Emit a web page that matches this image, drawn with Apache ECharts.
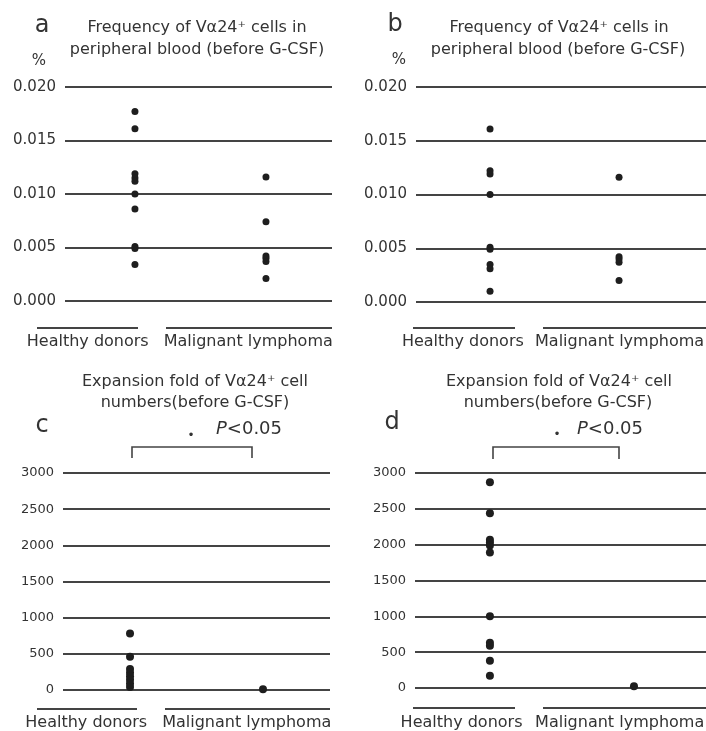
<!DOCTYPE html>
<html><head><meta charset="utf-8">
<script src="https://cdn.jsdelivr.net/npm/echarts@6/dist/echarts.min.js"></script>
<style>html,body{margin:0;padding:0;background:#fff}#c{width:706px;height:731px}</style>
</head><body><div id="c"></div>
<script>
const categories = ['Healthy donors', 'Malignant lymphoma'];
const freqTicks = [0, 0.005, 0.010, 0.015, 0.020];
const foldTicks = [0, 500, 1000, 1500, 2000, 2500, 3000];
const aHealthy = [0.0177, 0.0161, 0.0119, 0.0115, 0.0112, 0.0100, 0.0086, 0.0051, 0.0049, 0.0034];
const aLymphoma = [0.0116, 0.0074, 0.0042, 0.0040, 0.0037, 0.0021];
const bHealthy = [0.0161, 0.0122, 0.0119, 0.0100, 0.0051, 0.0049, 0.0035, 0.0031, 0.0010];
const bLymphoma = [0.0116, 0.0042, 0.0040, 0.0037, 0.0020];
const cHealthy = [780, 460, 290, 240, 190, 140, 90, 40];
const cLymphoma = [10];
const dHealthy = [2870, 2440, 2070, 2030, 1990, 1890, 1000, 630, 590, 380, 170];
const dLymphoma = [25];

const FONT = 'DejaVu Sans';
const TXT = '#333';
const LINE = '#444';

const panels = [
  {grid:{left:65, width:267, top:87, height:214}, x:[-0.534,1.504], y:freqTicks, fs:15, h:aHealthy, m:aLymphoma, sz:7, dec:3,
   lab:{left:7.5, width:321, top:330}},
  {grid:{left:416, width:290, top:87, height:215}, x:[-0.574,1.674], y:freqTicks, fs:15, h:bHealthy, m:bLymphoma, sz:7, dec:3,
   lab:{left:384.5, width:318, top:330}},
  {grid:{left:63, width:267, top:473, height:217}, x:[-0.504,1.504], y:foldTicks, fs:13, h:cHealthy, m:cLymphoma, sz:8, dec:0,
   lab:{left:6, width:321, top:711}},
  {grid:{left:415, width:291, top:473, height:215}, x:[-0.52,1.5], y:foldTicks, fs:13, h:dHealthy, m:dLymphoma, sz:8, dec:0,
   lab:{left:382.5, width:321, top:711}}
];

const grid = [], xAxis = [], yAxis = [], series = [];
panels.forEach((p, i) => {
  const gi = grid.length;
  grid.push(Object.assign({containLabel:false}, p.grid));
  xAxis.push({gridIndex:gi, type:'value', min:p.x[0], max:p.x[1], show:false});
  const yt = p.y;
  yAxis.push({gridIndex:gi, type:'value', min:yt[0], max:yt[yt.length-1], interval:yt[1]-yt[0],
    axisLine:{show:false}, axisTick:{show:false},
    splitLine:{show:true, lineStyle:{color:LINE, width:1.8}},
    axisLabel:{color:TXT, fontFamily:FONT, fontSize:p.fs, margin:9,
      formatter:v => v.toFixed(p.dec)}});
  series.push({type:'scatter', xAxisIndex:gi, yAxisIndex:gi, symbolSize:p.sz,
    itemStyle:{color:'#1e1e1e', opacity:1}, data:p.h.map(v => [0, v]), z:5});
  series.push({type:'scatter', xAxisIndex:gi, yAxisIndex:gi, symbolSize:p.sz,
    itemStyle:{color:'#1e1e1e', opacity:1}, data:p.m.map(v => [1, v]), z:5});
  const li = grid.length;
  grid.push({left:p.lab.left, width:p.lab.width, top:p.lab.top, height:2});
  xAxis.push({gridIndex:li, type:'category', data:categories, boundaryGap:true,
    axisLine:{show:false}, axisTick:{show:false},
    axisLabel:{color:TXT, fontFamily:FONT, fontSize:16, margin:2, interval:0}});
  yAxis.push({gridIndex:li, type:'value', show:false});
});

function txt(x, y, s, fs, extra) {
  return Object.assign({type:'text', x:x, y:y,
    style:Object.assign({text:s, fill:TXT, font:fs + 'px "' + FONT + '"', textAlign:'center', textVerticalAlign:'middle'}, extra || {})});
}
function line(x1, y1, x2, y2, w) {
  return {type:'line', shape:{x1:x1, y1:y1, x2:x2, y2:y2}, style:{stroke:LINE, lineWidth:w || 1.8}};
}
function bracket(x1, x2, yTop, yBot) {
  return {type:'polyline', shape:{points:[[x1, yBot], [x1, yTop], [x2, yTop], [x2, yBot]]}, style:{stroke:LINE, lineWidth:1.6, fill:null}};
}

const graphic = [
  // panel a
  txt(42, 26, 'a', 24), txt(197, 28, 'Frequency of Vα24⁺ cells in', 16), txt(197, 50, 'peripheral blood (before G-CSF)', 16),
  txt(39, 61, '%', 15),
  line(37, 328, 138, 328), line(166, 328, 332, 328),
  // panel b
  txt(395, 25, 'b', 24), txt(559, 28, 'Frequency of Vα24⁺ cells in', 16), txt(558, 50, 'peripheral blood (before G-CSF)', 16),
  txt(399, 60, '%', 15),
  line(413, 328, 515, 328), line(543, 328, 706, 328),
  // panel c
  txt(195, 382, 'Expansion fold of Vα24⁺ cell', 16), txt(195, 403, 'numbers(before G-CSF)', 16),
  txt(42, 426, 'c', 24),
  txt(191, 436, '•', 12), txt(249, 429, '{i|P}<0.05', 18),
  bracket(132, 252, 447, 458),
  line(37, 709, 137, 709), line(165, 709, 330, 709),
  // panel d
  txt(559, 382, 'Expansion fold of Vα24⁺ cell', 16), txt(558, 403, 'numbers(before G-CSF)', 16),
  txt(392, 423, 'd', 24),
  txt(557, 435, '•', 12), txt(610, 429, '{i|P}<0.05', 18),
  bracket(493, 619, 447, 459),
  line(413, 708, 515, 708), line(543, 708, 706, 708)
];
graphic.forEach(g => {
  if (g.type === 'text' && g.style.text.indexOf('{i|') === 0) {
    g.style.rich = {i:{fontStyle:'italic', fontFamily:FONT, fontSize:18, fill:TXT}};
  }
});

const chart = echarts.init(document.getElementById('c'), null, {renderer:'canvas'});
chart.setOption({
  backgroundColor:'#fff',
  animation:false,
  grid:grid, xAxis:xAxis, yAxis:yAxis, series:series, graphic:graphic
});
</script>
</body></html>
